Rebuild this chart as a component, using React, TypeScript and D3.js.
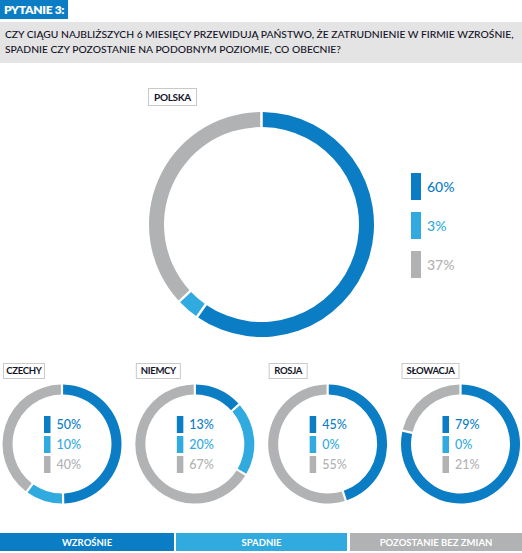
import React from "react";
import * as d3 from "d3";

const COLORS = ["#0a7dc5", "#31aae0", "#b1b2b4"];
const SERIES = ["WZROŚNIE", "SPADNIE", "POZOSTANIE BEZ ZMIAN"];
const MAIN_COUNTRY = "POLSKA";
const MAIN_VALUES = [60, 3, 37];
const SMALL_COUNTRIES = ["CZECHY", "NIEMCY", "ROSJA", "SŁOWACJA"];
const SMALL_VALUES = [
  [50, 10, 40],
  [13, 20, 67],
  [45, 0, 55],
  [79, 0, 21],
];
const TITLE_TAG = "PYTANIE 3:";
const TITLE_LINES = [
  "CZY CIĄGU NAJBLIŻSZYCH 6 MIESIĘCY PRZEWIDUJĄ PAŃSTWO, ŻE ZATRUDNIENIE W FIRMIE WZROŚNIE,",
  "SPADNIE CZY POZOSTANIE NA PODOBNYM POZIOMIE, CO OBECNIE?",
];

const FONT = "Lato, 'Open Sans', sans-serif";

function Donut({ cx, cy, r, thick, gap, values }: { cx: number; cy: number; r: number; thick: number; gap: number; values: number[] }) {
  const items = values.map((v, i) => ({ v, i })).filter((d) => d.v > 0);
  const pie = d3.pie<{ v: number; i: number }>().value((d) => d.v).sort(null).padAngle(gap / (r - thick / 2));
  const arcs = pie(items);
  const arc = d3.arc<d3.PieArcDatum<{ v: number; i: number }>>().innerRadius(r - thick).outerRadius(r).padRadius(r - thick / 2);
  return (
    <g transform={`translate(${cx},${cy})`}>
      {arcs.map((a) => (
        <path key={a.data.i} d={arc(a) || ""} fill={COLORS[a.data.i]} />
      ))}
    </g>
  );
}

function LabelBox({ x, y, text, w, h, fs }: { x: number; y: number; text: string; w: number; h: number; fs: number }) {
  return (
    <g>
      <rect x={x + 0.5} y={y + 0.5} width={w} height={h} fill="#fff" stroke="#c9c9c9" strokeWidth={1} />
      <text x={x + w / 2 + 0.5} y={y + h / 2 + fs * 0.36 + 0.5} textAnchor="middle" fontSize={fs} fontWeight={700} fill="#141428" fontFamily={FONT} letterSpacing={-0.3}>
        {text}
      </text>
    </g>
  );
}

function Legend({ x, y, values, barW, barH, step, fs }: { x: number; y: number; values: number[]; barW: number; barH: number; step: number; fs: number }) {
  return (
    <g>
      {values.map((v, i) => (
        <g key={i}>
          <rect x={x} y={y + i * step} width={barW} height={barH} fill={COLORS[i]} />
          <text x={x + barW + 6} y={y + i * step + barH / 2 + fs * 0.36} fontSize={fs} fontFamily={FONT} fill={COLORS[i]} fontWeight={500}>
            {v}%
          </text>
        </g>
      ))}
    </g>
  );
}

export default function App() {
  const W = 522, H = 553;
  const smallX = d3.scalePoint<string>().domain(SMALL_COUNTRIES).range([62, 460.5]);
  const labelW = [41, 44, 38, 57];
  return (
    <svg width={W} height={H} style={{ position: "absolute", left: 0, top: 0 }}>
      <rect x={0} y={0} width={W} height={H} fill="#fff" />
      {/* header */}
      <rect x={0} y={0} width={68} height={19} fill={COLORS[0]} />
      <text x={4} y={14} fontSize={12} fontWeight={800} fill="#fff" fontFamily={FONT} letterSpacing={-0.3}>{TITLE_TAG}</text>
      <rect x={0} y={22} width={W} height={41} fill="#e4e4e4" />
      {TITLE_LINES.map((t, i) => (
        <text key={i} x={5} y={38 + i * 15} fontSize={10.3} fontWeight={500} fill="#141428" fontFamily={FONT}>{t}</text>
      ))}

      {/* main donut */}
      <LabelBox x={148} y={88} w={48} h={17} text={MAIN_COUNTRY} fs={10} />
      <Donut cx={261.5} cy={224.5} r={112.5} thick={15} gap={2.5} values={MAIN_VALUES} />
      <Legend x={411} y={173} values={MAIN_VALUES} barW={10} barH={27} step={39} fs={14} />

      {/* small donuts */}
      {SMALL_COUNTRIES.map((c, k) => {
        const cx = smallX(c) as number;
        return (
          <g key={c}>
            <LabelBox x={cx - 59} y={363} w={labelW[k]} h={15} text={c} fs={9.5} />
            <Donut cx={cx} cy={444} r={59.5} thick={10} gap={2.2} values={SMALL_VALUES[k]} />
            <Legend x={cx - 18} y={416} values={SMALL_VALUES[k]} barW={6.5} barH={17} step={20} fs={12.5} />
          </g>
        );
      })}

      {/* bottom legend */}
      {SERIES.map((s, i) => {
        const x0 = [0, 176, 350][i];
        const x1 = [174, 347, 522][i];
        return (
          <g key={s}>
            <rect x={x0} y={533} width={x1 - x0} height={18} fill={COLORS[i]} />
            <text x={(x0 + x1) / 2} y={545.5} textAnchor="middle" fontSize={9.5} fontWeight={700} fill="#fff" fontFamily={FONT}>{s}</text>
          </g>
        );
      })}
    </svg>
  );
}
